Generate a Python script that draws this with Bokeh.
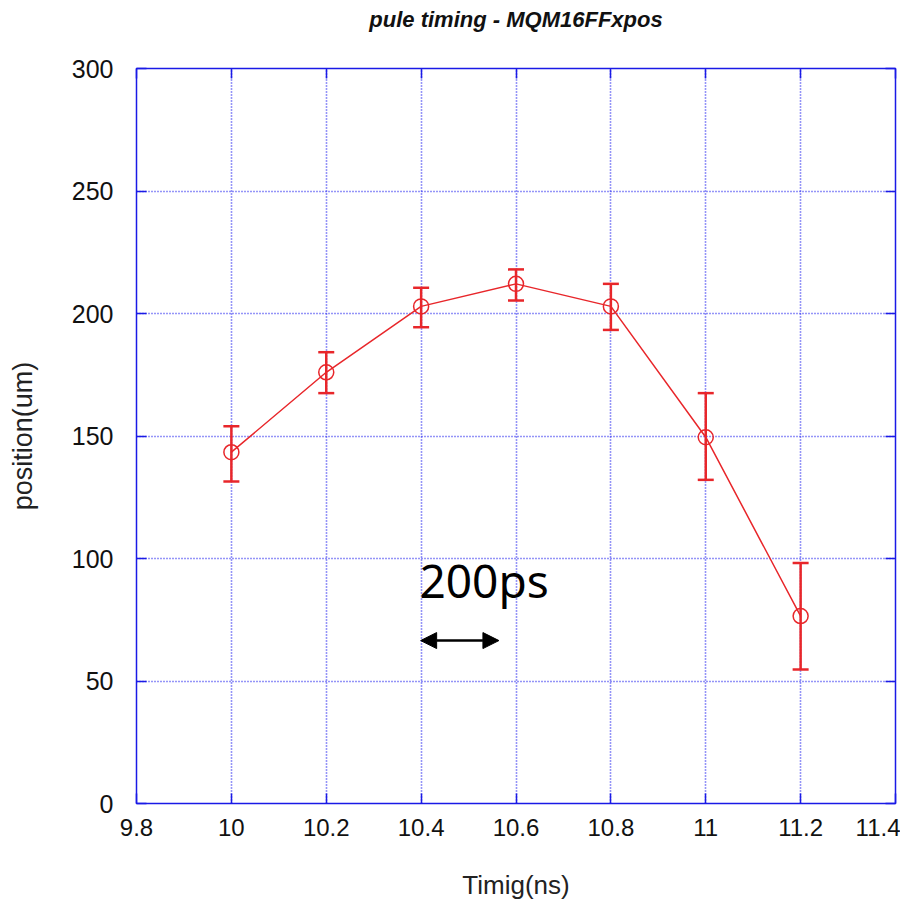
from bokeh.plotting import figure
from bokeh.models import (ColumnDataSource, Whisker, TeeHead, Arrow, NormalHead,
                          LinearAxis, Range1d, FixedTicker, Label)
from bokeh.embed import file_html
from bokeh.resources import INLINE

# data
timing_ns = [10.0, 10.2, 10.4, 10.6, 10.8, 11.0, 11.2]
position_um = [143.4, 176.0, 202.9, 212.1, 202.9, 149.5, 76.5]
err_upper = [154.0, 184.2, 210.5, 218.0, 212.1, 167.5, 98.2]
err_lower = [131.4, 167.5, 194.4, 205.3, 193.3, 132.1, 54.7]
x_ticks = [9.8, 10.0, 10.2, 10.4, 10.6, 10.8, 11.0, 11.2, 11.4]
y_ticks = [0, 50, 100, 150, 200, 250, 300]
title_text = "pule timing - MQM16FFxpos"
annot_text = "200ps"
annot_x = [10.399, 10.564]
annot_y = 66.5

RED = "#e8262a"
BLUE = "#1a1ae6"
TICK_FONT = "Liberation Sans"

src = ColumnDataSource(dict(x=timing_ns, y=position_um, up=err_upper, lo=err_lower))

p = figure(width=900, height=902, output_backend="svg", toolbar_location=None,
           x_range=Range1d(9.8, 11.4), y_range=Range1d(0, 300),
           min_border_left=136, min_border_right=5, min_border_top=68, min_border_bottom=99,
           frame_width=759, frame_height=735)

p.outline_line_color = BLUE
p.outline_line_width = 1.5

for ax in [p.xaxis[0], p.yaxis[0]]:
    ax.axis_line_color = None
    ax.major_tick_in = 10
    ax.major_tick_out = 0
    ax.minor_tick_line_color = None
    ax.major_tick_line_color = BLUE
    ax.major_tick_line_width = 1.5
    ax.major_label_text_font = TICK_FONT
    ax.major_label_text_color = "#111111"
    ax.axis_label_text_font = "Liberation Sans"
    ax.axis_label_text_font_style = "normal"
    ax.axis_label_text_color = "#222222"

p.xaxis[0].major_label_text_font_size = "24px"
p.yaxis[0].major_label_text_font_size = "25px"
p.xaxis[0].axis_label_text_font_size = "26px"
p.yaxis[0].axis_label_text_font_size = "27px"
p.xaxis[0].ticker = FixedTicker(ticks=x_ticks)
p.yaxis[0].ticker = FixedTicker(ticks=y_ticks)
p.xaxis[0].major_label_overrides = {t: ("%g" % t) for t in x_ticks}
p.xaxis[0].major_label_standoff = 15
p.yaxis[0].major_label_standoff = 23
p.xaxis[0].axis_label = "Timig(ns)"
p.yaxis[0].axis_label = "position(um)"
p.xaxis[0].axis_label_standoff = 31
p.yaxis[0].axis_label_standoff = 31

# top axis: inward ticks, and the chart title as its label
top_ax = LinearAxis(ticker=FixedTicker(ticks=x_ticks),
                    major_label_overrides={t: "" for t in x_ticks},
                    axis_line_color=None, major_tick_in=10, major_tick_out=0,
                    major_tick_line_color=BLUE, major_tick_line_width=1.5,
                    minor_tick_line_color=None, major_label_standoff=0,
                    axis_label=title_text, axis_label_standoff=37,
                    axis_label_text_font="Liberation Sans",
                    axis_label_text_font_style="bold italic",
                    axis_label_text_font_size="22px", axis_label_text_color="#111111")
right_ax = LinearAxis(ticker=FixedTicker(ticks=y_ticks),
                      major_label_overrides={t: "" for t in y_ticks},
                      axis_line_color=None, major_tick_in=10, major_tick_out=0,
                      major_tick_line_color=BLUE, major_tick_line_width=1.5,
                      minor_tick_line_color=None, major_label_standoff=0)
p.add_layout(top_ax, "above")
p.add_layout(right_ax, "right")

for g in [p.xgrid[0], p.ygrid[0]]:
    g.grid_line_color = "#2a2af0"
    g.grid_line_dash = "1 2"
    g.grid_line_width = 1.6
    g.grid_line_alpha = 1.0
p.xgrid[0].ticker = FixedTicker(ticks=x_ticks)
p.ygrid[0].ticker = FixedTicker(ticks=y_ticks)

p.line("x", "y", source=src, line_color=RED, line_width=1.5)
w = Whisker(source=src, base="x", upper="up", lower="lo", line_color=RED, line_width=2.5,
            upper_head=TeeHead(size=16, line_color=RED, line_width=2.5),
            lower_head=TeeHead(size=16, line_color=RED, line_width=2.5))
p.add_layout(w)
p.scatter("x", "y", source=src, marker="circle", size=15, fill_color=None,
          line_color=RED, line_width=1.5)

p.add_layout(Arrow(x_start=annot_x[0], y_start=annot_y, x_end=annot_x[1], y_end=annot_y,
                   line_color="black", line_width=2.5,
                   start=NormalHead(size=16, fill_color="black", line_color="black"),
                   end=NormalHead(size=16, fill_color="black", line_color="black")))
# annotation text placed in screen pixels relative to the frame
p.add_layout(Label(x=283, y=193, x_units="screen", y_units="screen", text=annot_text,
                   text_font="Noto Sans", text_font_size="46px", text_color="black"))

open("out.html", "w").write(file_html(p, INLINE))
